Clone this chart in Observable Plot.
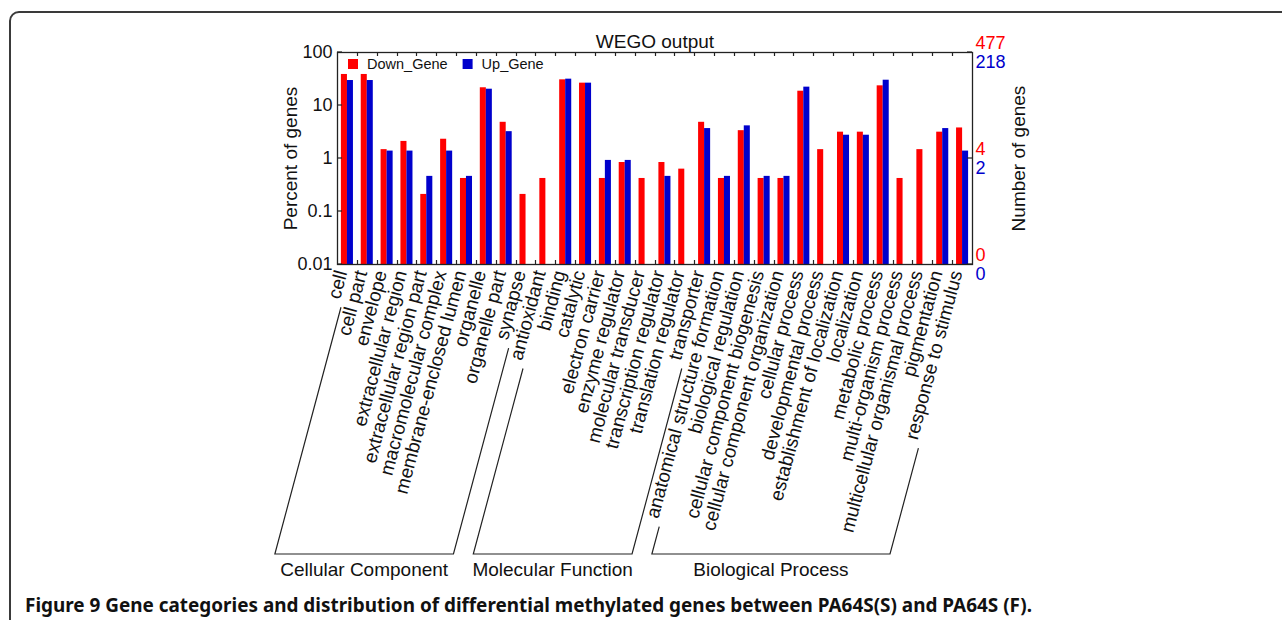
<!DOCTYPE html>
<html><head><meta charset="utf-8">
<script src="https://cdn.jsdelivr.net/npm/d3@7"></script>
<script src="https://cdn.jsdelivr.net/npm/@observablehq/plot@0.6"></script>
<style>
html,body{margin:0;padding:0;background:#fff;width:1282px;height:620px;overflow:hidden;}
#border{position:absolute;left:9px;top:11px;width:1400px;height:800px;border:2px solid #3a3a3a;border-top-left-radius:10px;box-sizing:border-box;}
#chart{position:absolute;left:0;top:0;}
#caption{position:absolute;left:25px;top:594px;line-height:22px;font-weight:bold;font-family:"Noto Sans","Open Sans",sans-serif;white-space:nowrap;color:#111;}
</style></head><body>
<div id="border"></div>
<div id="chart"></div>
<div id="caption"></div>
<script>
const categories = ["cell","cell part","envelope","extracellular region","extracellular region part","macromolecular complex","membrane-enclosed lumen","organelle","organelle part","synapse",
  "antioxidant","binding","catalytic","electron carrier","enzyme regulator","molecular transducer","transcription regulator","translation regulator","transporter",
  "anatomical structure formation","biological regulation","cellular component biogenesis","cellular component organization","cellular process","developmental process","establishment of localization","localization","metabolic process","multi-organism process","multicellular organismal process","pigmentation","response to stimulus"];
const groupNames = ["Cellular Component","Molecular Function","Biological Process"];
const groupSizes = [10, 9, 13];
const downGene = [38.5,38.5,1.47,2.10,0.21,2.31,0.42,21.6,4.82,0.21,
  0.42,30.5,26.4,0.42,0.84,0.42,0.84,0.63,4.82,
  0.42,3.35,0.42,0.42,18.6,1.47,3.14,3.14,23.5,0.42,1.47,3.14,3.77];
const upGene = [29.6,29.6,1.38,1.38,0.46,1.38,0.46,20.3,3.21,null,
  null,31.4,26.4,0.92,0.92,null,0.46,null,3.67,
  0.46,4.13,0.46,0.46,22.2,null,2.75,2.75,30.0,null,null,3.67,1.38];
const seriesNames = ["Down_Gene","Up_Gene"];
const seriesColors = ["#ff0000","#0000cc"];
const yTicks = [0.01,0.1,1,10,100];
const rightTicks = [100,1,0.01];
const rightDownLabels = ["477","4","0"];
const rightUpLabels = ["218","2","0"];
const title = "WEGO output";
const yLabel = "Percent of genes";
const y2Label = "Number of genes";
const caption = "Figure 9 Gene categories and distribution of differential methylated genes between PA64S(S) and PA64S (F).";

const FONT = "'Liberation Sans', Arial, Helvetica, sans-serif";
const down = categories.map((c,i)=>({category:c, series:seriesNames[0], value: downGene[i]})).filter(d=>d.value!=null);
const up = categories.map((c,i)=>({category:c, series:seriesNames[1], value: upGene[i]})).filter(d=>d.value!=null);

const groups = []; let k = 0;
groupNames.forEach((g,i)=>{ groups.push({name:g, first:categories[k], last:categories[k+groupSizes[i]-1]}); k += groupSizes[i]; });

const cv = document.createElement("canvas"); const ctx = cv.getContext("2d");
function textWidth(s, size, weight){ ctx.font = `${weight||""} ${size}px ${FONT}`; return ctx.measureText(s).width; }

const LABEL_SIZE = 19, ANG = 75;
function decorations(index, scales, values, dims) {
  const x = scales.x, y = scales.y, color = scales.color;
  const step = x(categories[1]) - x(categories[0]);
  const left = dims.marginLeft, right = dims.width - dims.marginRight;
  const top = dims.marginTop, bottom = dims.height - dims.marginBottom;
  const g = d3.create("svg:g").attr("fill","none").attr("stroke","#222").attr("stroke-width",1.2).attr("text-anchor","start");
  categories.slice(1).forEach(c => {
    const bx = Math.round(x(c)) + 0.5;
    g.append("line").attr("x1",bx).attr("x2",bx).attr("y1",top).attr("y2",top+4);
    g.append("line").attr("x1",bx).attr("x2",bx).attr("y1",bottom).attr("y2",bottom-4);
  });
  yTicks.forEach(t => { const ty = y(t); g.append("line").attr("x1",left).attr("x2",left+5).attr("y1",ty).attr("y2",ty); });
  rightTicks.forEach(t => { const ty = y(t); g.append("line").attr("x1",right-5).attr("x2",right).attr("y1",ty).attr("y2",ty); });
  const a = ANG*Math.PI/180, ux = -Math.cos(a), uy = Math.sin(a);
  const labelY = bottom + 8, bracketY = bottom + 290, off = 3.5;
  const lineFor = c => {
    const cx = x(c) + step/2 + off;
    const L = textWidth(c, LABEL_SIZE) + 8;
    return {x0: cx + ux*L, y0: labelY + uy*L, x1: cx + ux*(bracketY-labelY)/uy, y1: bracketY};
  };
  groups.forEach(gr => {
    const l = lineFor(gr.first), r = lineFor(gr.last);
    g.append("path").attr("d", `M${l.x0},${l.y0}L${l.x1},${l.y1}L${r.x1},${r.y1}L${r.x0},${r.y0}`);
    g.append("text").attr("x",(l.x1+r.x1)/2).attr("y",bracketY+15).attr("dy","0.35em")
      .attr("text-anchor","middle").attr("fill","#111").attr("stroke","none").attr("font-size",19).text(gr.name);
  });
  let lx = left + 11; const ly = top + 7;
  seriesNames.forEach(s => {
    g.append("rect").attr("x",lx).attr("y",ly).attr("width",10).attr("height",10).attr("fill",color(s)).attr("stroke","none");
    g.append("text").attr("x",lx+19).attr("y",ly+5).attr("dy","0.35em").attr("text-anchor","start").attr("fill","#111").attr("stroke","none")
      .attr("font-size",14.5).text(s);
    lx += 19 + textWidth(s, 14.5) + 15;
  });
  return g.node();
}

const plot = Plot.plot({
  width: 1282, height: 580,
  marginLeft: 337, marginRight: 310, marginTop: 52, marginBottom: 316,
  style: {fontFamily: FONT, fontSize: "18px", color: "#111", background: "transparent", overflow: "visible"},
  x: {type: "band", domain: categories, padding: 0, round: false, axis: null},
  y: {type: "log", domain: [0.01, 100]},
  color: {domain: seriesNames, range: seriesColors},
  marks: [
    Plot.barY(down, {x: "category", y1: () => 0.01, y2: "value", fill: "series", insetLeft: 3.9, insetRight: 9.9}),
    Plot.barY(up, {x: "category", y1: () => 0.01, y2: "value", fill: "series", insetLeft: 9.9, insetRight: 3.9}),
    Plot.frame({stroke: "#222", strokeWidth: 1.3}),
    Plot.axisY({ticks: yTicks, tickFormat: d => String(d), tickSize: 0, tickPadding: 5, fontSize: 18, label: null}),
    Plot.text(categories, {x: d => d, frameAnchor: "bottom", dy: 8, rotate: -75, textAnchor: "end", fontSize: LABEL_SIZE, fill: "#111"}),
    Plot.text(rightTicks, {y: d => d, text: (d, i) => rightDownLabels[i], frameAnchor: "right", dx: 3, dy: -9, textAnchor: "start", fill: seriesColors[0], fontSize: 18}),
    Plot.text(rightTicks, {y: d => d, text: (d, i) => rightUpLabels[i], frameAnchor: "right", dx: 3, dy: 10, textAnchor: "start", fill: seriesColors[1], fontSize: 18}),
    Plot.text([title], {frameAnchor: "top", dy: -18, fontSize: 19, fill: "#111"}),
    Plot.text([yLabel], {frameAnchor: "left", dx: -47, rotate: -90, textAnchor: "middle", fontSize: 19, fill: "#111"}),
    Plot.text([y2Label], {frameAnchor: "right", dx: 46, rotate: -90, textAnchor: "middle", fontSize: 19, fill: "#111"}),
    decorations
  ]
});
document.getElementById("chart").appendChild(plot);

const capEl = document.getElementById("caption");
capEl.textContent = caption;
ctx.font = `bold 17px "Noto Sans", "Open Sans", sans-serif`;
const w17 = ctx.measureText(caption).width;
capEl.style.fontSize = (17 * 1008 / w17).toFixed(2) + "px";
</script></body></html>
